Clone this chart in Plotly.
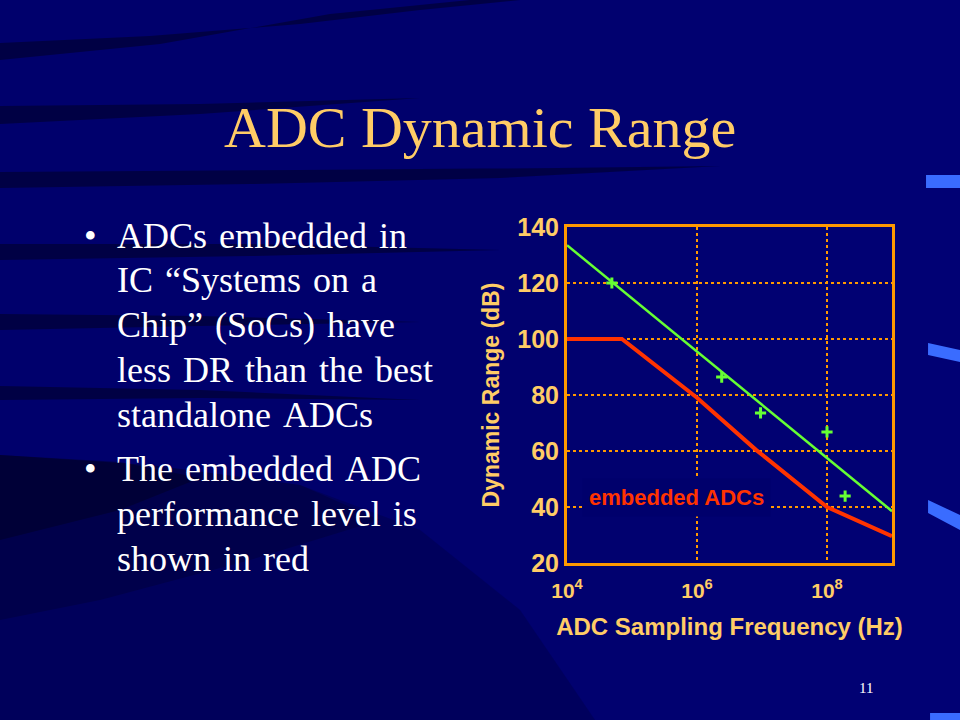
import plotly.graph_objects as go

# ---------------- data ----------------
best_freq = [1e4, 1e9]
best_dr = [133.5, 38.5]

adc_freq = [4.9e4, 2.4e6, 9.5e6, 1.0e8, 1.9e8]
adc_dr = [120, 86.4, 73.6, 66.8, 43.9]

emb_freq = [1e4, 7e4, 1e6, 8e6, 1e8, 1e9]
emb_dr = [100, 100, 79, 60.5, 40, 29.6]

y_ticks = [20, 40, 60, 80, 100, 120, 140]
x_ticks = [1e4, 1e6, 1e8]
x_ticktext = ["10<sup>4</sup>", "10<sup>6</sup>", "10<sup>8</sup>"]

title_text = "ADC Dynamic Range"
bullet1_lines = ["ADCs embedded in", "IC \u201cSystems on a", "Chip\u201d (SoCs) have",
                 "less DR than the best", "standalone ADCs"]
bullet2_lines = ["The embedded ADC", "performance level is", "shown in red"]

W, H = 960, 720
def px(x):
    return x / W
def py(y):
    return 1 - y / H

BG = "#00006c"
ORANGE = "#FF9900"
LABEL = "#FFCC66"
GREEN = "#66FF33"
RED = "#FF3300"

fig = go.Figure()
fig.add_trace(go.Scatter(x=best_freq, y=best_dr, mode="lines",
                         line=dict(color=GREEN, width=2.5), showlegend=False))
fig.add_trace(go.Scatter(x=adc_freq, y=adc_dr, mode="markers",
                         marker=dict(symbol="cross-thin", size=8, color=GREEN,
                                     line=dict(color=GREEN, width=3)),
                         showlegend=False))
fig.add_trace(go.Scatter(x=emb_freq, y=emb_dr, mode="lines",
                         line=dict(color=RED, width=4),
                         showlegend=False))

# ---------------- background decoration ----------------
shapes = []
def path_px(pts):
    s = "M " + " L ".join(f"{px(x):.4f},{py(y):.4f}" for x, y in pts) + " Z"
    return s

for i in range(8):
    x0 = 420 + i * 70
    shapes.append(dict(type="rect", xref="paper", yref="paper", x0=px(x0), x1=1,
                       y0=0, y1=1, fillcolor="rgba(20,20,160,0.04)", line_width=0,
                       layer="below"))
bands = [
    [(0, 43), (150, 36), (300, 24), (420, 10), (520, 0), (470, 0), (330, 14), (160, 44), (0, 60)],
    [(0, 106), (200, 104), (420, 98), (200, 114), (0, 124)],
    [(0, 172), (300, 170), (560, 168), (720, 166), (500, 178), (250, 184), (0, 188)],
    [(0, 244), (250, 244), (500, 250), (250, 256), (0, 260)],
    [(0, 314), (200, 316), (420, 322), (200, 326), (0, 330)],
    [(0, 386), (200, 390), (420, 400), (200, 398), (0, 400)],
]
for b in bands:
    shapes.append(dict(type="path", xref="paper", yref="paper", path=path_px(b),
                       fillcolor="rgba(0,0,20,0.45)", line_width=0, layer="below"))
shapes.append(dict(type="path", xref="paper", yref="paper",
                   path=path_px([(0, 455), (150, 465), (300, 485), (420, 530),
                                 (520, 610), (595, 720), (0, 720)]),
                   fillcolor="rgba(0,0,30,0.22)", line_width=0, layer="below"))
shapes.append(dict(type="path", xref="paper", yref="paper",
                   path=path_px([(0, 455), (150, 465), (300, 485), (380, 520),
                                 (250, 560), (100, 600), (0, 620)]),
                   fillcolor="rgba(0,0,20,0.22)", line_width=0, layer="below"))
shapes.append(dict(type="path", xref="paper", yref="paper",
                   path=path_px([(0, 455), (120, 462), (200, 478), (120, 510), (0, 540)]),
                   fillcolor="rgba(0,0,10,0.3)", line_width=0, layer="below"))
accents = [
    [(926, 175), (960, 175), (960, 188), (926, 188)],
    [(928, 343), (960, 350), (960, 362), (928, 355)],
    [(928, 500), (960, 515), (960, 530), (928, 513)],
    [(930, 713), (960, 713), (960, 720), (930, 720)],
]
for a in accents:
    shapes.append(dict(type="path", xref="paper", yref="paper", path=path_px(a),
                       fillcolor="#3a6cff", line_width=0, layer="below"))

BODY = 36
annotations = [
    dict(text=title_text, x=px(480), y=py(127), xref="paper", yref="paper",
         xanchor="center", yanchor="middle", showarrow=False,
         font=dict(family="Liberation Serif", size=58, color=LABEL)),
    dict(text="embedded ADCs", x=px(676), y=py(497), xref="paper", yref="paper",
         xanchor="center", yanchor="middle", showarrow=False,
         bgcolor=BG, borderpad=6,
         font=dict(family="Liberation Sans", size=22, color=RED, weight="bold")),
    dict(text="11", x=px(866), y=py(688), xref="paper", yref="paper",
         xanchor="center", yanchor="middle", showarrow=False,
         font=dict(family="Liberation Serif", size=15, color="white")),
]
def add_bullet(lines, baselines):
    annotations.append(dict(text="\u2022", x=px(82), y=py(baselines[0] - 0.3 * BODY),
                            xref="paper", yref="paper", xanchor="left", yanchor="middle",
                            showarrow=False,
                            font=dict(family="Liberation Serif", size=BODY, color="white")))
    for t, b in zip(lines, baselines):
        annotations.append(dict(text=t.replace(" ", " \u200a"), x=px(115),
                                y=py(b - 0.3 * BODY),
                                xref="paper", yref="paper", xanchor="left", yanchor="middle",
                                showarrow=False,
                                font=dict(family="Liberation Serif", size=BODY, color="white")))
add_bullet(bullet1_lines, [247, 291, 336, 381, 426])
add_bullet(bullet2_lines, [480, 525, 570])

fig.update_layout(
    width=W, height=H,
    margin=dict(l=0, r=0, t=0, b=0, autoexpand=False),
    paper_bgcolor=BG, plot_bgcolor="rgba(0,0,0,0)",
    shapes=shapes, annotations=annotations, showlegend=False,
    xaxis=dict(type="log", range=[4, 9], domain=[px(567), px(892)],
               tickvals=x_ticks, ticktext=x_ticktext, automargin=False,
               showgrid=True, gridcolor=ORANGE, gridwidth=2, griddash="dot",
               showline=True, mirror=True, linecolor=ORANGE, linewidth=3,
               zeroline=False, ticks="", ticklabelstandoff=7,
               tickfont=dict(family="Liberation Sans", size=21, color=LABEL, weight="bold"),
               title=dict(text="ADC Sampling Frequency (Hz)", standoff=17,
                          font=dict(family="Liberation Sans", size=24, color=LABEL, weight="bold"))),
    yaxis=dict(range=[20, 140], domain=[py(563), py(227)],
               tickvals=y_ticks, automargin=False,
               showgrid=True, gridcolor=ORANGE, gridwidth=2, griddash="dot",
               showline=True, mirror=True, linecolor=ORANGE, linewidth=3,
               zeroline=False, ticks="", ticklabelstandoff=0,
               tickfont=dict(family="Liberation Sans", size=25, color=LABEL, weight="bold"),
               title=dict(text="Dynamic Range (dB)", standoff=12,
                          font=dict(family="Liberation Sans", size=23, color=LABEL, weight="bold"))),
)

fig.write_html("out.html", config={"displayModeBar": False},
               post_script="document.body.style.margin='0';document.body.style.overflow='hidden';")
